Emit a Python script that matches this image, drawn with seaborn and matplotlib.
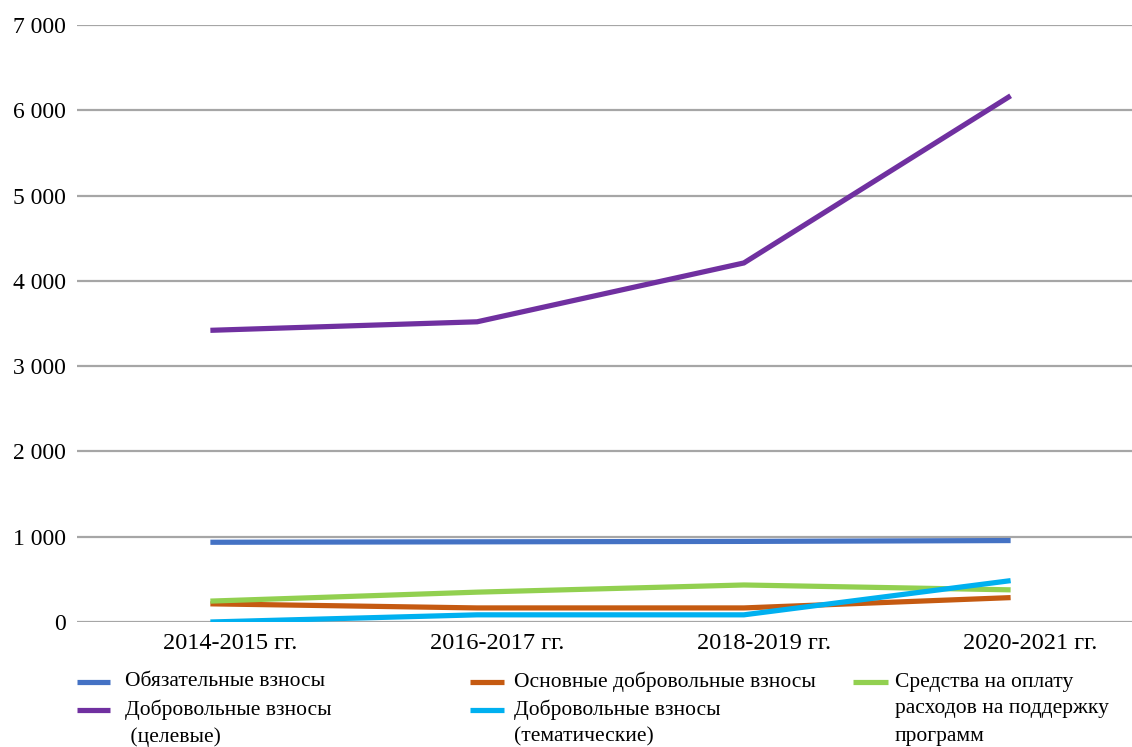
"""Contributions by type, 2014-2021."""

import matplotlib
matplotlib.use("Agg")
import matplotlib.pyplot as plt
import matplotlib.transforms as mtransforms
from matplotlib.lines import Line2D
from matplotlib.ticker import FuncFormatter
import pandas as pd
import seaborn as sns


PERIODS = ["2014-2015 гг.", "2016-2017 гг.", "2018-2019 гг.", "2020-2021 гг."]
SERIES = [
    "Обязательные взносы",
    "Основные добровольные взносы",
    "Средства на оплату\nрасходов на поддержку\nпрограмм",
    "Добровольные взносы\n (целевые)",
    "Добровольные взносы\n(тематические)",
]
MANDATORY = [935, 940, 945, 955]
CORE_VOLUNTARY = [213, 165, 165, 286]
SUPPORT_COSTS = [245, 350, 434, 377]
EARMARKED = [3420, 3520, 4210, 6170]
THEMATIC = [0, 84, 84, 485]
COLORS = ["#4472C4", "#C55A11", "#92D050", "#7030A0", "#00B0F0"]

W, H = 1132, 747


def px(x, y):
    """Pixel position (from top-left) to figure fraction."""
    return x / W, 1 - y / H


def main() -> None:
    sns.set_theme(style="white")
    plt.rcParams["font.family"] = ["Liberation Serif", "DejaVu Serif"]

    values = [MANDATORY, CORE_VOLUNTARY, SUPPORT_COSTS, EARMARKED, THEMATIC]
    rows = []
    for name, vals in zip(SERIES, values):
        for period, v in zip(PERIODS, vals):
            rows.append({"period": period, "series": name, "value": v})
    df = pd.DataFrame(rows)

    fig = plt.figure(figsize=(W / 100, H / 100), dpi=100)
    left, right = 77 / W, 1144 / W
    bottom, top = 1 - 622 / H, 1 - 25 / H
    ax = fig.add_axes([left, bottom, right - left, top - bottom])

    sns.lineplot(
        data=df, x="period", y="value", hue="series", hue_order=SERIES,
        palette=COLORS, linewidth=3.75, sort=False, legend=False, ax=ax,
    )
    for line in ax.lines:
        line.set_solid_capstyle("butt")
        line.set_solid_joinstyle("miter")

    ax.set_xlim(-0.5, 3.5)
    ax.set_ylim(0, 7000)
    ax.set_yticks(range(0, 7001, 1000))
    ax.yaxis.set_major_formatter(FuncFormatter(lambda v, _: f"{int(v):,}".replace(",", " ")))
    ax.grid(axis="y", color="#A6A6A6", linewidth=1.6)
    ax.grid(axis="x", visible=False)
    ax.set_axisbelow(True)
    for s in ax.spines.values():
        s.set_visible(False)
    ax.tick_params(axis="y", length=0, pad=8, labelsize=17, labelcolor="black")
    ax.tick_params(axis="x", length=0, pad=8, labelsize=17.5, labelcolor="black")
    ax.set_xlabel("")
    ax.set_ylabel("")

    # category labels sit a little right of the data points, as in the source
    shift = mtransforms.ScaledTranslation(0.2, 0, fig.dpi_scale_trans)
    for lab in ax.get_xticklabels():
        lab.set_transform(lab.get_transform() + shift)

    # legend drawn by hand: three columns, handle aligned with first text line
    handle_x = [(77, 110), (470, 504), (853, 888)]
    text_x = [125, 514, 895]
    row_y = [682, 710]
    slots = [(0, 0), (1, 0), (2, 0), (0, 1), (1, 1)]
    for name, color, (col, row) in zip(SERIES, COLORS, slots):
        y0 = row_y[row]
        x1, y1 = px(handle_x[col][0], y0)
        x2, _ = px(handle_x[col][1], y0)
        fig.add_artist(Line2D([x1, x2], [y1, y1], color=color, linewidth=3.75,
                              solid_capstyle="butt", transform=fig.transFigure))
        for i, part in enumerate(name.split("\n")):
            tx, ty = px(text_x[col], y0 + i * 27)
            fig.text(tx, ty, part, ha="left", va="center", fontsize=15.5, color="black")

    fig.savefig("out.png", dpi=100)
    plt.close(fig)


if __name__ == "__main__":
    main()
